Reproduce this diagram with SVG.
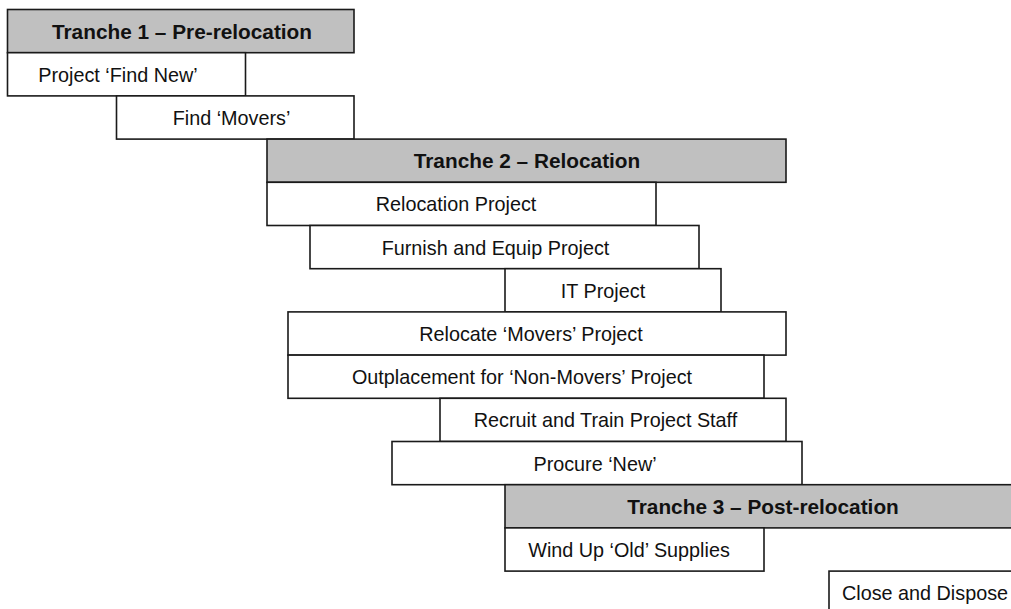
<svg xmlns="http://www.w3.org/2000/svg" width="1011" height="609" viewBox="0 0 1011 609">
<style>
.box{fill:#ffffff;stroke:#1a1a1a;stroke-width:1.6}
.tr{fill:#c0c0c0;stroke:#1a1a1a;stroke-width:1.6}
.t{font-family:"Liberation Sans",Arial,sans-serif;font-size:19.8px;fill:#111;text-anchor:middle}
.b{font-family:"Liberation Sans",Arial,sans-serif;font-size:20.8px;font-weight:bold;fill:#111;text-anchor:middle}
</style>
<rect width="1011" height="609" fill="#ffffff"/>
<g id="connectors"/>
<g id="tranche1">
<rect class="tr" x="7.5" y="9.5" width="346.5" height="43.2"/>
<text class="b" x="182" y="38.6">Tranche 1 – Pre-relocation</text>
</g>
<g id="project-find-new">
<rect class="box" x="7.5" y="52.7" width="238" height="43.2"/>
<text class="t" x="118" y="81.8">Project ‘Find New’</text>
</g>
<g id="find-movers">
<rect class="box" x="116.5" y="95.9" width="237.5" height="43.2"/>
<text class="t" x="231.5" y="125">Find ‘Movers’</text>
</g>
<g id="tranche2">
<rect class="tr" x="267" y="139.1" width="519" height="43.2"/>
<text class="b" x="527" y="168.2">Tranche 2 – Relocation</text>
</g>
<g id="relocation-project">
<rect class="box" x="267" y="182.3" width="389" height="43.2"/>
<text class="t" x="456" y="211.4">Relocation Project</text>
</g>
<g id="furnish-equip">
<rect class="box" x="310" y="225.5" width="389" height="43.2"/>
<text class="t" x="495.5" y="254.6">Furnish and Equip Project</text>
</g>
<g id="it-project">
<rect class="box" x="505" y="268.7" width="216" height="43.2"/>
<text class="t" x="603" y="297.8">IT Project</text>
</g>
<g id="relocate-movers">
<rect class="box" x="288" y="311.9" width="498" height="43.2"/>
<text class="t" x="531" y="341">Relocate ‘Movers’ Project</text>
</g>
<g id="outplacement">
<rect class="box" x="288" y="355.1" width="476" height="43.2"/>
<text class="t" x="522" y="384.2">Outplacement for ‘Non-Movers’ Project</text>
</g>
<g id="recruit-train">
<rect class="box" x="440" y="398.3" width="346" height="43.2"/>
<text class="t" x="605.5" y="427.4">Recruit and Train Project Staff</text>
</g>
<g id="procure-new">
<rect class="box" x="392" y="441.5" width="410" height="43.2"/>
<text class="t" x="595" y="470.6">Procure ‘New’</text>
</g>
<g id="tranche3">
<rect class="tr" x="505" y="484.7" width="520" height="43.2"/>
<text class="b" x="763" y="513.8">Tranche 3 – Post-relocation</text>
</g>
<g id="wind-up">
<rect class="box" x="505" y="527.9" width="259" height="43.2"/>
<text class="t" x="629" y="557">Wind Up ‘Old’ Supplies</text>
</g>
<g id="close-dispose">
<rect class="box" x="829" y="571.1" width="200" height="60"/>
<text class="t" x="842" y="600.2" style="text-anchor:start">Close and Dispose</text>
</g>
</svg>
